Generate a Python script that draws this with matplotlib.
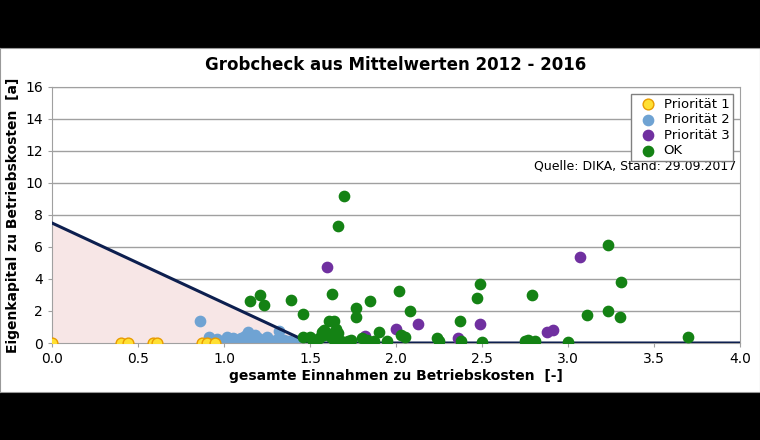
import numpy as np
import matplotlib.pyplot as plt

title = "Grobcheck aus Mittelwerten 2012 - 2016"
xlabel = "gesamte Einnahmen zu Betriebskosten  [-]"
ylabel = "Eigenkapital zu Betriebskosten  [a]"

p1_x = [0.0, 0.40, 0.44, 0.59, 0.61, 0.87, 0.90, 0.95]
p1_y = [0.0, 0.0, 0.0, 0.0, 0.0, 0.0, 0.0, 0.0]

p2_x = [0.86, 0.91, 0.93, 0.96, 1.0, 1.02, 1.05, 1.08, 1.1, 1.12, 1.14, 1.16, 1.18, 1.2,
        1.22, 1.25, 1.27, 1.3, 1.32, 1.35, 1.38, 1.42, 1.45, 0.98, 1.06, 1.15, 1.24, 1.34]
p2_y = [1.35, 0.35, 0.2, 0.25, 0.1, 0.4, 0.3, 0.2, 0.3, 0.45, 0.7, 0.4, 0.5, 0.3,
        0.2, 0.35, 0.1, 0.2, 0.75, 0.2, 0.1, 0.05, 0.0, 0.0, 0.0, 0.0, 0.0, 0.0]

p3_x = [1.60, 1.82, 2.00, 2.13, 2.36, 2.49, 2.88, 2.91, 3.07]
p3_y = [4.75, 0.45, 0.9, 1.2, 0.3, 1.2, 0.7, 0.8, 5.4]

ok_x = [1.15, 1.21, 1.23, 1.39, 1.46, 1.46, 1.50, 1.52, 1.55, 1.57, 1.58, 1.60, 1.61, 1.62,
        1.63, 1.64, 1.65, 1.66, 1.68, 1.70, 1.72, 1.74, 1.77, 1.77, 1.80, 1.83, 1.85, 1.87,
        1.90, 1.95, 2.02, 2.03, 2.05, 2.08, 2.24, 2.25, 2.37, 2.38, 2.47, 2.49, 2.50,
        2.75, 2.77, 2.79, 2.81, 3.00, 3.11, 3.23, 3.23, 3.30, 3.31, 3.70, 1.58, 1.64, 1.66]
ok_y = [2.65, 3.0, 2.4, 2.7, 1.8, 0.35, 0.4, 0.1, 0.3, 0.7, 0.5, 0.6, 1.4, 0.4,
        3.05, 1.4, 0.9, 7.3, 0.1, 9.2, 0.1, 0.2, 1.6, 2.2, 0.3, 0.2, 2.6, 0.1,
        0.7, 0.1, 3.25, 0.5, 0.4, 2.0, 0.3, 0.1, 1.4, 0.1, 2.8, 3.7, 0.05,
        0.1, 0.2, 3.0, 0.1, 0.05, 1.75, 6.15, 2.0, 1.6, 3.8, 0.35, 0.8, 0.2, 0.6]

limit_x = [0.0, 1.5, 4.0]
limit_y = [7.5, 0.0, 0.0]

fig = plt.figure(figsize=(7.6, 4.4), dpi=100, facecolor="black")
# weisser Rahmen zwischen den schwarzen Balken
bg = fig.add_axes([0, 48/440, 1, 344/440], zorder=-1)
bg.set_facecolor("white")
bg.set_xticks([])
bg.set_yticks([])
for s in bg.spines.values():
    s.set_color("#999999")

ax = fig.add_axes([52/760, 97/440, 688/760, 256/440])
ax.set_facecolor("white")

ax.fill_between(limit_x[:2], limit_y[:2], 0, color="#f7e6e6", zorder=1)
ax.plot(limit_x, limit_y, color="#0d1f4f", lw=2.2, zorder=3)

ax.scatter(p2_x, p2_y, s=55, color="#6fa3d3", zorder=2, label="Priorität 2")
ax.scatter(p1_x, p1_y, s=60, color="#ffe033", edgecolor="#e89b00", lw=1, zorder=4, label="Priorität 1")
ax.scatter(p3_x, p3_y, s=55, color="#7030a0", zorder=4, label="Priorität 3")
ax.scatter(ok_x, ok_y, s=55, color="#148214", zorder=4, label="OK")

ax.set_xlim(0, 4)
ax.set_ylim(0, 16)
ax.set_xticks(np.arange(0, 4.01, 0.5))
ax.set_xticklabels(["%.1f" % v for v in np.arange(0, 4.01, 0.5)])
ax.set_yticks(range(0, 17, 2))
ax.grid(axis="y", color="#a0a0a0", lw=1)
ax.set_axisbelow(True)
for s in ax.spines.values():
    s.set_color("#a0a0a0")
ax.tick_params(labelsize=10, color="#a0a0a0", length=3)

ax.set_title(title, fontsize=12, fontweight="bold", pad=12)
ax.set_xlabel(xlabel, fontsize=10, fontweight="bold", labelpad=2)
ax.set_ylabel(ylabel, fontsize=10, fontweight="bold")

h, l = ax.get_legend_handles_labels()
order = [1, 0, 2, 3]
leg = ax.legend([h[i] for i in order], [l[i] for i in order], loc="upper right",
                fontsize=9.5, handletextpad=0.2, borderpad=0.3, labelspacing=0.2,
                fancybox=False, edgecolor="#808080", framealpha=1)
ax.text(0.995, 0.69, "Quelle: DIKA, Stand: 29.09.2017", transform=ax.transAxes,
        ha="right", va="center", fontsize=9)

fig.savefig("out.png", dpi=100, facecolor="black")
